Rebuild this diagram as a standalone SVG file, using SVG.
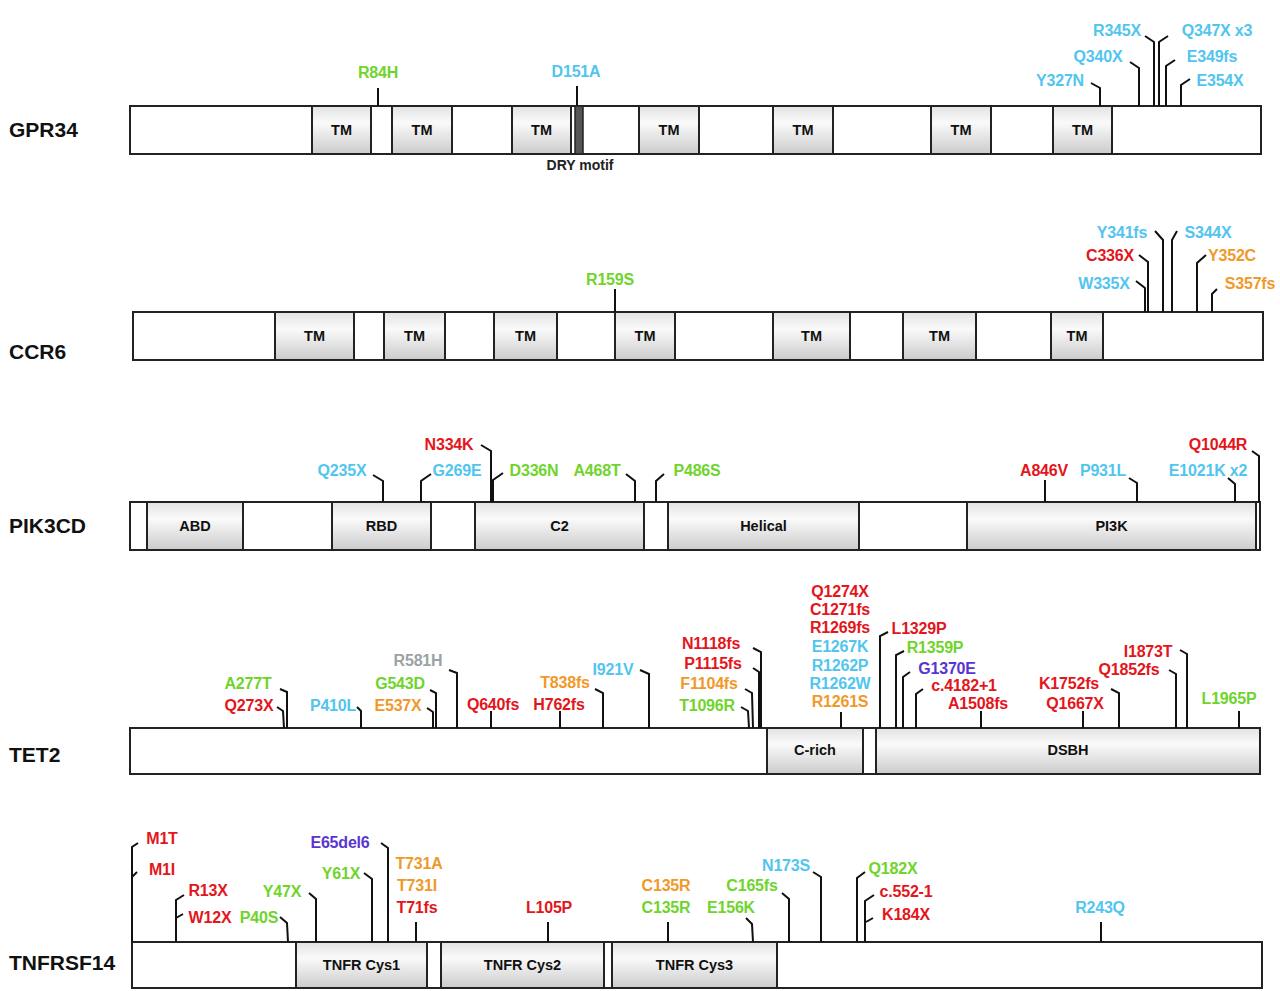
<svg xmlns="http://www.w3.org/2000/svg" width="1280" height="991" viewBox="0 0 1280 991">
<defs>
<linearGradient id="dg" x1="0" y1="0" x2="0" y2="1">
<stop offset="0" stop-color="#e2e2e2"/>
<stop offset="0.35" stop-color="#fafafa"/>
<stop offset="1" stop-color="#cbcbcb"/>
</linearGradient>
<style>
.bar{fill:#fff;stroke:#222;stroke-width:2}
.dom{fill:url(#dg);stroke:#222;stroke-width:2}
.gene{font-family:"Liberation Sans",Arial,sans-serif;font-weight:bold;font-size:21px;fill:#111}
.dl{font-family:"Liberation Sans",Arial,sans-serif;font-weight:bold;font-size:14.5px;fill:#111;text-anchor:middle}
.m{font-family:"Liberation Sans",Arial,sans-serif;font-weight:bold;font-size:16px;text-anchor:middle;letter-spacing:-0.2px}
.c{fill:#52c5ef}.g{fill:#6fd42c}.r{fill:#e3161c}.o{fill:#f0992a}.p{fill:#5b35d0}.y{fill:#9aa3a5}
#connectors polyline{fill:none;stroke:#111;stroke-width:2}
</style>
</defs>
<rect width="1280" height="991" fill="#fff"/>

<!-- GPR34 -->
<g id="gpr34">
<text class="gene" x="9" y="137">GPR34</text>
<rect class="bar" x="130" y="106" width="1131" height="48"/>
<rect class="dom" x="312" y="106" width="59" height="48"/><text class="dl" x="341.5" y="135">TM</text>
<rect class="dom" x="392" y="106" width="60" height="48"/><text class="dl" x="422" y="135">TM</text>
<rect class="dom" x="512" y="106" width="59" height="48"/><text class="dl" x="541.5" y="135">TM</text>
<rect x="575" y="106" width="8" height="48" fill="#555" stroke="#222" stroke-width="1.5"/>
<text class="dl" x="580" y="170" style="font-size:14px;fill:#222">DRY motif</text>
<rect class="dom" x="639" y="106" width="60" height="48"/><text class="dl" x="669" y="135">TM</text>
<rect class="dom" x="773" y="106" width="60" height="48"/><text class="dl" x="803" y="135">TM</text>
<rect class="dom" x="931" y="106" width="60" height="48"/><text class="dl" x="961" y="135">TM</text>
<rect class="dom" x="1053" y="106" width="59" height="48"/><text class="dl" x="1082.5" y="135">TM</text>
</g>

<!-- CCR6 -->
<g id="ccr6">
<text class="gene" x="9" y="359">CCR6</text>
<rect class="bar" x="133" y="312" width="1130" height="48"/>
<rect class="dom" x="275" y="312" width="79" height="48"/><text class="dl" x="314.5" y="341">TM</text>
<rect class="dom" x="384" y="312" width="61" height="48"/><text class="dl" x="414.5" y="341">TM</text>
<rect class="dom" x="494" y="312" width="63" height="48"/><text class="dl" x="525.5" y="341">TM</text>
<rect class="dom" x="615" y="312" width="60" height="48"/><text class="dl" x="645" y="341">TM</text>
<rect class="dom" x="773" y="312" width="77" height="48"/><text class="dl" x="811.5" y="341">TM</text>
<rect class="dom" x="903" y="312" width="73" height="48"/><text class="dl" x="939.5" y="341">TM</text>
<rect class="dom" x="1051" y="312" width="52" height="48"/><text class="dl" x="1077" y="341">TM</text>
</g>

<!-- PIK3CD -->
<g id="pik3cd">
<text class="gene" x="9" y="533">PIK3CD</text>
<rect class="bar" x="130" y="502" width="1130" height="48"/>
<rect class="dom" x="147" y="502" width="96" height="48"/><text class="dl" x="195" y="531">ABD</text>
<rect class="dom" x="332" y="502" width="99" height="48"/><text class="dl" x="381.5" y="531">RBD</text>
<rect class="dom" x="475" y="502" width="169" height="48"/><text class="dl" x="559.5" y="531">C2</text>
<rect class="dom" x="668" y="502" width="191" height="48"/><text class="dl" x="763.5" y="531">Helical</text>
<rect class="dom" x="967" y="502" width="289" height="48"/><text class="dl" x="1111.5" y="531">PI3K</text>
</g>

<!-- TET2 -->
<g id="tet2">
<text class="gene" x="9" y="762">TET2</text>
<rect class="bar" x="130" y="728" width="1130" height="46"/>
<rect class="dom" x="767" y="728" width="96" height="46"/><text class="dl" x="815" y="755">C-rich</text>
<rect class="dom" x="876" y="728" width="384" height="46"/><text class="dl" x="1068" y="755">DSBH</text>
</g>

<!-- TNFRSF14 -->
<g id="tnfrsf14">
<text class="gene" x="9" y="970">TNFRSF14</text>
<rect class="bar" x="132" y="942" width="1130" height="46"/>
<rect class="dom" x="296" y="942" width="131" height="46"/><text class="dl" x="361.5" y="970">TNFR Cys1</text>
<rect class="dom" x="441" y="942" width="163" height="46"/><text class="dl" x="522.5" y="970">TNFR Cys2</text>
<rect class="dom" x="612" y="942" width="165" height="46"/><text class="dl" x="694.5" y="970">TNFR Cys3</text>
</g>

<g id="connectors">
<!-- GPR34 -->
<polyline points="378,88 378,106"/>
<polyline points="577,86 577,106"/>
<polyline points="1091,83 1100,88 1100,106"/>
<polyline points="1130,62 1139,68 1139,106"/>
<polyline points="1145,36 1154,42 1154,106"/>
<polyline points="1168,36 1159,42 1159,106"/>
<polyline points="1175,60 1166,66 1166,106"/>
<polyline points="1190,79 1181,85 1181,106"/>
<!-- CCR6 -->
<polyline points="615,289 615,312"/>
<polyline points="1155,231 1163,240 1163,312"/>
<polyline points="1177,231 1172,240 1172,312"/>
<polyline points="1139,255 1148,262 1148,312"/>
<polyline points="1136,281 1145,288 1145,312"/>
<polyline points="1206,255 1197,263 1197,312"/>
<polyline points="1217,289 1212,294 1212,312"/>
<!-- PIK3CD -->
<polyline points="373,475 383,481 383,502"/>
<polyline points="431,474 421,481 421,502"/>
<polyline points="481,445 491,451 491,502"/>
<polyline points="503,473 493,480 493,502"/>
<polyline points="626,474 635,481 635,502"/>
<polyline points="664,474 656,481 656,502"/>
<polyline points="1045,480 1045,502"/>
<polyline points="1129,478 1137,483 1137,502"/>
<polyline points="1228,478 1235,484 1235,502"/>
<polyline points="1252,451 1259,456 1259,502"/>
<!-- TET2 -->
<polyline points="280,689 287,692 287,728"/>
<polyline points="277,707 283,711 284,728"/>
<polyline points="357,707 361,711 361,728"/>
<polyline points="430,690 436,693 436,728"/>
<polyline points="427,708 433,712 433,728"/>
<polyline points="449,670 457,673 457,728"/>
<polyline points="491,711 491,728"/>
<polyline points="560,711 560,728"/>
<polyline points="595,689 603,693 603,728"/>
<polyline points="640,670 649,674 649,728"/>
<polyline points="753,648 761,652 761,728"/>
<polyline points="753,668 759,672 759,728"/>
<polyline points="745,689 752,693 753,728"/>
<polyline points="741,707 748,711 749,728"/>
<polyline points="841,712 841,728"/>
<polyline points="888,632 880,636 880,728"/>
<polyline points="904,651 896,655 896,728"/>
<polyline points="910,672 903,677 903,728"/>
<polyline points="923,689 916,694 916,728"/>
<polyline points="981,711 981,728"/>
<polyline points="1111,689 1119,693 1119,728"/>
<polyline points="1083,711 1083,728"/>
<polyline points="1169,670 1176,674 1176,728"/>
<polyline points="1180,650 1187,654 1187,728"/>
<polyline points="1239,711 1239,728"/>
<!-- TNFRSF14 -->
<polyline points="138,843 132,847 132,942"/>
<polyline points="137,872 132,877"/>
<polyline points="184,895 176,900 176,942"/>
<polyline points="183,914 176,918"/>
<polyline points="309,893 316,899 316,942"/>
<polyline points="280,917 287,923 288,942"/>
<polyline points="364,873 372,879 372,942"/>
<polyline points="381,843 388,848 388,942"/>
<polyline points="416,922 416,942"/>
<polyline points="548,922 548,942"/>
<polyline points="668,922 668,942"/>
<polyline points="746,918 752,924 753,942"/>
<polyline points="782,893 789,899 789,942"/>
<polyline points="813,872 821,877 821,942"/>
<polyline points="865,872 857,878 857,942"/>
<polyline points="874,895 865,901 865,942"/>
<polyline points="873,918 866,922"/>
<polyline points="1101,922 1101,942"/>
</g>

<g id="labels-gpr34">
<text id="m-R84H" class="m g" x="378" y="78">R84H</text>
<text id="m-D151A" class="m c" x="576" y="77">D151A</text>
<text id="m-Y327N" class="m c" x="1060" y="86">Y327N</text>
<text id="m-Q340X" class="m c" x="1098" y="62">Q340X</text>
<text id="m-R345X" class="m c" x="1117" y="36">R345X</text>
<text id="m-Q347X" class="m c" x="1217" y="36">Q347X x3</text>
<text id="m-E349fs" class="m c" x="1212" y="62">E349fs</text>
<text id="m-E354X" class="m c" x="1220" y="86">E354X</text>
</g>
<g id="labels-ccr6">
<text id="m-R159S" class="m g" x="610" y="285">R159S</text>
<text id="m-Y341fs" class="m c" x="1122" y="238">Y341fs</text>
<text id="m-S344X" class="m c" x="1208" y="238">S344X</text>
<text id="m-C336X" class="m r" x="1110" y="261">C336X</text>
<text id="m-W335X" class="m c" x="1104" y="289">W335X</text>
<text id="m-Y352C" class="m o" x="1232" y="261">Y352C</text>
<text id="m-S357fs" class="m o" x="1250" y="289">S357fs</text>
</g>
<g id="labels-pik3cd">
<text id="m-Q235X" class="m c" x="342" y="476">Q235X</text>
<text id="m-G269E" class="m c" x="457" y="476">G269E</text>
<text id="m-N334K" class="m r" x="449" y="450">N334K</text>
<text id="m-D336N" class="m g" x="534" y="476">D336N</text>
<text id="m-A468T" class="m g" x="597" y="476">A468T</text>
<text id="m-P486S" class="m g" x="697" y="476">P486S</text>
<text id="m-A846V" class="m r" x="1044" y="476">A846V</text>
<text id="m-P931L" class="m c" x="1103" y="476">P931L</text>
<text id="m-E1021K" class="m c" x="1208" y="476">E1021K x2</text>
<text id="m-Q1044R" class="m r" x="1218" y="450">Q1044R</text>
</g>
<g id="labels-tet2">
<text id="m-A277T" class="m g" x="248" y="689">A277T</text>
<text id="m-Q273X" class="m r" x="249" y="711">Q273X</text>
<text id="m-P410L" class="m c" x="333" y="711">P410L</text>
<text id="m-G543D" class="m g" x="400" y="689">G543D</text>
<text id="m-E537X" class="m o" x="398" y="711">E537X</text>
<text id="m-R581H" class="m y" x="418" y="666">R581H</text>
<text id="m-Q640fs" class="m r" x="493" y="710">Q640fs</text>
<text id="m-H762fs" class="m r" x="559" y="710">H762fs</text>
<text id="m-T838fs" class="m o" x="565" y="688">T838fs</text>
<text id="m-I921V" class="m c" x="613" y="675">I921V</text>
<text id="m-N1118fs" class="m r" x="711" y="649">N1118fs</text>
<text id="m-P1115fs" class="m r" x="713" y="669">P1115fs</text>
<text id="m-F1104fs" class="m o" x="709" y="689">F1104fs</text>
<text id="m-T1096R" class="m g" x="707" y="711">T1096R</text>
<text id="m-Q1274X" class="m r" x="840" y="597">Q1274X</text>
<text id="m-C1271fs" class="m r" x="840" y="615">C1271fs</text>
<text id="m-R1269fs" class="m r" x="840" y="633">R1269fs</text>
<text id="m-E1267K" class="m c" x="840" y="652">E1267K</text>
<text id="m-R1262P" class="m c" x="840" y="671">R1262P</text>
<text id="m-R1262W" class="m c" x="840" y="689">R1262W</text>
<text id="m-R1261S" class="m o" x="840" y="707">R1261S</text>
<text id="m-L1329P" class="m r" x="919" y="634">L1329P</text>
<text id="m-R1359P" class="m g" x="935" y="653">R1359P</text>
<text id="m-G1370E" class="m p" x="947" y="674">G1370E</text>
<text id="m-c4182" class="m r" x="964" y="691">c.4182+1</text>
<text id="m-A1508fs" class="m r" x="978" y="709">A1508fs</text>
<text id="m-K1752fs" class="m r" x="1069" y="689">K1752fs</text>
<text id="m-Q1667X" class="m r" x="1075" y="709">Q1667X</text>
<text id="m-Q1852fs" class="m r" x="1129" y="675">Q1852fs</text>
<text id="m-I1873T" class="m r" x="1148" y="657">I1873T</text>
<text id="m-L1965P" class="m g" x="1229" y="704">L1965P</text>
</g>
<g id="labels-tnfrsf14">
<text id="m-M1T" class="m r" x="162" y="844">M1T</text>
<text id="m-M1I" class="m r" x="162" y="875">M1I</text>
<text id="m-R13X" class="m r" x="208" y="896">R13X</text>
<text id="m-W12X" class="m r" x="210" y="923">W12X</text>
<text id="m-Y47X" class="m g" x="282" y="897">Y47X</text>
<text id="m-P40S" class="m g" x="259" y="923">P40S</text>
<text id="m-Y61X" class="m g" x="341" y="879">Y61X</text>
<text id="m-E65del6" class="m p" x="340" y="848">E65del6</text>
<text id="m-T731A" class="m o" x="419" y="869">T731A</text>
<text id="m-T731I" class="m o" x="417" y="891">T731I</text>
<text id="m-T71fs" class="m r" x="417" y="913">T71fs</text>
<text id="m-L105P" class="m r" x="549" y="913">L105P</text>
<text id="m-C135R-o" class="m o" x="666" y="891">C135R</text>
<text id="m-C135R-g" class="m g" x="666" y="913">C135R</text>
<text id="m-E156K" class="m g" x="731" y="913">E156K</text>
<text id="m-C165fs" class="m g" x="752" y="891">C165fs</text>
<text id="m-N173S" class="m c" x="786" y="871">N173S</text>
<text id="m-Q182X" class="m g" x="893" y="874">Q182X</text>
<text id="m-c552" class="m r" x="906" y="897">c.552-1</text>
<text id="m-K184X" class="m r" x="906" y="920">K184X</text>
<text id="m-R243Q" class="m c" x="1100" y="913">R243Q</text>
</g>
</svg>
